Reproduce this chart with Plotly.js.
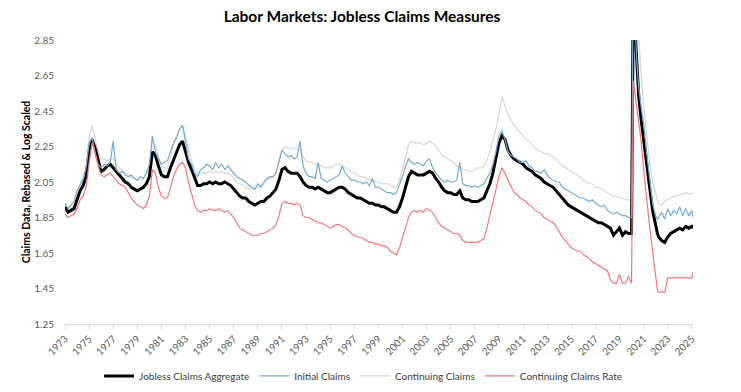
<!DOCTYPE html>
<html>
<head>
<meta charset="utf-8">
<script src="https://cdn.plot.ly/plotly-3.0.1.min.js"></script>
<style>html,body{margin:0;padding:0;background:#fff;}#chart{width:741px;height:392px;}</style>
</head>
<body>
<div id="chart"></div>
<script>
// Quarterly readings 1973.00 .. 2019.75 (4 values per year)
const firstYear = 1973;
const lastQuarterYear = 2019;
// Finer readings around the 2020 spike and after
const recentDates = [2020.0, 2020.15, 2020.22, 2020.3, 2020.45, 2020.6, 2020.8, 2021.0, 2021.25, 2021.5,
  2021.75, 2022.0, 2022.15, 2022.25, 2022.5, 2022.75, 2023.0, 2023.25, 2023.5, 2023.75,
  2024.0, 2024.25, 2024.5, 2024.75, 2025.0, 2025.1];

const aggregateQ = [
  1.91,1.88,1.89,1.90, 1.95,2.00,2.03,2.08, 2.22,2.29,2.24,2.17, 2.11,2.12,2.14,2.15,
  2.13,2.11,2.09,2.07, 2.05,2.04,2.02,2.01, 2.00,2.01,2.02,2.04, 2.08,2.22,2.20,2.14,
  2.09,2.08,2.08,2.13, 2.17,2.21,2.26,2.28, 2.22,2.16,2.12,2.07, 2.03,2.03,2.04,2.04,
  2.05,2.04,2.05,2.04, 2.04,2.05,2.04,2.03, 2.01,1.99,1.97,1.96, 1.96,1.94,1.93,1.92,
  1.93,1.94,1.94,1.96, 1.97,1.99,2.01,2.06, 2.12,2.13,2.11,2.10, 2.10,2.10,2.08,2.05,
  2.03,2.02,2.02,2.01, 2.02,2.01,2.00,1.99, 1.99,2.00,2.01,2.02, 2.02,2.01,1.99,1.98,
  1.97,1.96,1.96,1.95, 1.94,1.93,1.93,1.92, 1.92,1.91,1.91,1.90, 1.89,1.88,1.88,1.91,
  1.96,2.02,2.08,2.11, 2.10,2.09,2.09,2.09, 2.10,2.11,2.10,2.07, 2.05,2.02,2.00,1.99,
  1.99,1.98,1.98,2.00, 1.96,1.95,1.95,1.94, 1.94,1.94,1.95,1.96, 2.00,2.04,2.10,2.18,
  2.27,2.31,2.29,2.23, 2.20,2.18,2.17,2.16, 2.15,2.13,2.12,2.11, 2.09,2.08,2.07,2.05,
  2.04,2.03,2.02,2.00, 1.98,1.96,1.94,1.92, 1.91,1.90,1.89,1.88, 1.87,1.86,1.85,1.84,
  1.83,1.82,1.82,1.81, 1.80,1.79,1.75,1.77, 1.79,1.75,1.77,1.76];
const aggregateRecent = [1.76,3.20,3.30,2.90,2.70,2.53,2.40,2.30,2.16,2.02,
  1.89,1.80,1.76,1.74,1.72,1.71,1.74,1.76,1.77,1.78, 1.79,1.78,1.80,1.79,1.80,1.79];

const initialQ = [
  1.93,1.90,1.92,1.94, 2.00,2.04,2.07,2.13, 2.27,2.30,2.21,2.15, 2.13,2.15,2.14,2.16,
  2.28,2.12,2.10,2.11, 2.09,2.08,2.09,2.07, 2.06,2.08,2.07,2.10, 2.15,2.31,2.22,2.18,
  2.15,2.16,2.17,2.22, 2.27,2.30,2.35,2.37, 2.28,2.18,2.15,2.10, 2.08,2.12,2.13,2.15,
  2.14,2.12,2.16,2.13, 2.15,2.12,2.14,2.12, 2.10,2.08,2.07,2.06, 2.05,2.03,2.02,2.01,
  2.04,2.02,2.05,2.07, 2.08,2.08,2.10,2.16, 2.23,2.21,2.19,2.20, 2.18,2.19,2.28,2.14,
  2.10,2.08,2.08,2.07, 2.16,2.07,2.06,2.05, 2.06,2.07,2.08,2.09, 2.14,2.10,2.08,2.06,
  2.06,2.05,2.05,2.04, 2.05,2.03,2.07,2.02, 2.02,2.01,2.00,1.99, 1.99,1.98,1.99,2.03,
  2.08,2.14,2.18,2.16, 2.15,2.16,2.15,2.14, 2.17,2.18,2.13,2.10, 2.08,2.06,2.05,2.06,
  2.05,2.05,2.06,2.16, 2.04,2.03,2.03,2.02, 2.03,2.02,2.03,2.04, 2.07,2.10,2.15,2.22,
  2.31,2.34,2.29,2.22, 2.20,2.19,2.18,2.16, 2.16,2.17,2.14,2.13, 2.11,2.11,2.10,2.12,
  2.09,2.07,2.06,2.05, 2.05,2.02,2.01,2.00, 1.99,1.98,1.97,1.96, 1.96,1.95,1.94,1.95,
  1.93,1.92,1.91,1.92, 1.89,1.88,1.87,1.88, 1.87,1.86,1.86,1.85];
const initialRecent = [1.85,3.30,3.25,2.92,2.72,2.58,2.47,2.38,2.22,2.08,
  1.93,1.86,1.84,1.85,1.88,1.84,1.90,1.86,1.89,1.87, 1.91,1.86,1.90,1.86,1.89,1.85];

const continuingQ = [
  1.92,1.89,1.90,1.92, 1.96,2.01,2.06,2.14, 2.30,2.37,2.30,2.22, 2.18,2.18,2.17,2.18,
  2.18,2.15,2.13,2.12, 2.10,2.09,2.08,2.07, 2.06,2.06,2.07,2.10, 2.14,2.28,2.26,2.20,
  2.14,2.13,2.13,2.19, 2.26,2.31,2.35,2.37, 2.31,2.23,2.17,2.12, 2.10,2.10,2.10,2.10,
  2.11,2.10,2.11,2.10, 2.11,2.10,2.10,2.09, 2.07,2.05,2.04,2.03, 2.02,2.01,2.01,2.01,
  2.02,2.03,2.04,2.06, 2.07,2.08,2.10,2.16, 2.23,2.25,2.24,2.24, 2.24,2.24,2.23,2.19,
  2.17,2.16,2.16,2.15, 2.15,2.14,2.13,2.13, 2.13,2.14,2.15,2.15, 2.14,2.13,2.12,2.11,
  2.10,2.09,2.08,2.08, 2.07,2.06,2.06,2.05, 2.05,2.04,2.04,2.04, 2.03,2.02,2.02,2.06,
  2.12,2.20,2.26,2.28, 2.27,2.27,2.27,2.26, 2.27,2.28,2.27,2.25, 2.23,2.20,2.19,2.18,
  2.17,2.16,2.14,2.13, 2.12,2.12,2.11,2.11, 2.12,2.13,2.13,2.14, 2.17,2.22,2.28,2.35,
  2.45,2.53,2.48,2.43, 2.40,2.37,2.35,2.33, 2.31,2.29,2.28,2.26, 2.24,2.23,2.22,2.21,
  2.21,2.20,2.19,2.18, 2.16,2.14,2.13,2.12, 2.11,2.10,2.09,2.08, 2.06,2.05,2.04,2.04,
  2.02,2.02,2.01,2.00, 1.99,1.98,1.97,1.97, 1.96,1.96,1.95,1.95];
const continuingRecent = [1.94,2.40,3.10,3.30,3.05,2.85,2.65,2.48,2.30,2.16,
  2.05,1.98,1.95,1.93,1.92,1.94,1.95,1.96,1.97,1.97, 1.98,1.98,1.99,1.98,1.99,1.99];

const rateQ = [
  1.87,1.85,1.86,1.87, 1.90,1.95,1.97,2.02, 2.16,2.27,2.22,2.14, 2.09,2.08,2.09,2.10,
  2.08,2.06,2.04,2.03, 2.02,1.99,1.96,1.94, 1.92,1.91,1.90,1.92, 1.97,2.12,2.10,2.02,
  1.97,1.96,1.96,2.02, 2.08,2.12,2.15,2.16, 2.13,2.05,1.98,1.92, 1.89,1.88,1.89,1.89,
  1.90,1.89,1.89,1.90, 1.89,1.88,1.89,1.87, 1.85,1.82,1.79,1.78, 1.77,1.76,1.75,1.75,
  1.75,1.76,1.76,1.77, 1.78,1.79,1.81,1.86, 1.93,1.94,1.93,1.93, 1.92,1.93,1.92,1.86,
  1.85,1.85,1.84,1.83, 1.82,1.82,1.81,1.80, 1.79,1.80,1.81,1.81, 1.80,1.79,1.78,1.76,
  1.75,1.74,1.74,1.73, 1.72,1.71,1.71,1.70, 1.70,1.69,1.69,1.68, 1.66,1.65,1.64,1.68,
  1.74,1.80,1.85,1.88, 1.89,1.88,1.89,1.88, 1.90,1.89,1.88,1.85, 1.82,1.80,1.79,1.78,
  1.77,1.76,1.76,1.75, 1.72,1.71,1.71,1.71, 1.71,1.71,1.72,1.73, 1.79,1.86,1.93,2.00,
  2.08,2.13,2.10,2.06, 2.02,1.99,1.98,1.96, 1.95,1.94,1.92,1.91, 1.89,1.88,1.87,1.85,
  1.84,1.83,1.82,1.80, 1.77,1.74,1.72,1.70, 1.68,1.67,1.66,1.66, 1.64,1.63,1.62,1.60,
  1.59,1.58,1.57,1.56, 1.55,1.50,1.48,1.48, 1.53,1.48,1.48,1.52];
const rateRecent = [1.48,2.62,2.58,2.53,2.45,2.36,2.28,2.12,1.94,1.80,
  1.66,1.52,1.44,1.43,1.43,1.43,1.51,1.51,1.51,1.51, 1.51,1.51,1.51,1.51,1.51,1.54];

const seriesNames = ['Jobless Claims Aggregate', 'Initial Claims', 'Continuing Claims', 'Continuing Claims Rate'];
const yTickLabels = ['1.25','1.45','1.65','1.85','2.05','2.25','2.45','2.65','2.85'];
const xTickLabels = [];
for (let y = 1973; y <= 2025; y += 2) xTickLabels.push(String(y));

const quarterDates = [];
for (let y = firstYear; y <= lastQuarterYear; y++) {
  for (let q = 0; q < 4; q++) quarterDates.push(y + q * 0.25);
}
const dates = quarterDates.concat(recentDates);

const FONT = 'Lato, "Open Sans", "DejaVu Sans", sans-serif';

const traces = [
  {name: seriesNames[2], x: dates, y: continuingQ.concat(continuingRecent), type: 'scatter', mode: 'lines',
   line: {color: '#d6d6d6', width: 1.2}, legendrank: 3},
  {name: seriesNames[0], x: dates, y: aggregateQ.concat(aggregateRecent), type: 'scatter', mode: 'lines',
   line: {color: '#000000', width: 3}, legendrank: 1},
  {name: seriesNames[1], x: dates, y: initialQ.concat(initialRecent), type: 'scatter', mode: 'lines',
   line: {color: '#74acd8', width: 1.2}, legendrank: 2},
  {name: seriesNames[3], x: dates, y: rateQ.concat(rateRecent), type: 'scatter', mode: 'lines',
   line: {color: '#f47676', width: 1.2}, legendrank: 4}
];

const layout = {
  width: 741, height: 392,
  margin: {l: 65, r: 48, t: 40, b: 68},
  paper_bgcolor: '#ffffff', plot_bgcolor: '#ffffff',
  font: {family: FONT, size: 10, color: '#595959'},
  title: {text: '<b>Labor Markets: Jobless Claims Measures</b>', font: {family: FONT, size: 15.5, color: '#000000'},
          x: 0.473, xref: 'paper', xanchor: 'center', y: 0.957, yref: 'container', yanchor: 'middle'},
  xaxis: {range: [1973, 2025.1], tickmode: 'array', tickvals: xTickLabels.map(Number), ticktext: xTickLabels,
          tickangle: -45, showgrid: false, zeroline: false, showline: true, linecolor: '#d9d9d9', linewidth: 1,
          ticks: 'outside', ticklen: 4, tickcolor: '#d9d9d9', automargin: false,
          tickfont: {family: FONT, size: 10, color: '#595959'}},
  yaxis: {range: [1.25, 2.85], tickmode: 'array', tickvals: yTickLabels.map(Number), ticktext: yTickLabels,
          showgrid: false, zeroline: false, showline: false, ticks: '', automargin: false,
          ticklabelstandoff: 10,
          tickfont: {family: FONT, size: 10, color: '#595959'},
          title: {text: '<b>Claims Data, Rebased & Log Scaled</b>', font: {family: FONT, size: 10.5, color: '#000000'}, standoff: 1}},
  legend: {orientation: 'h', x: 0.49, xref: 'container', xanchor: 'center', y: 0.041, yref: 'container', yanchor: 'middle',
           font: {family: FONT, size: 10, color: '#404040'}, itemwidth: 30, bgcolor: 'rgba(0,0,0,0)'},
  showlegend: true
};

Plotly.newPlot('chart', traces, layout, {displayModeBar: false, staticPlot: true});
</script>
</body>
</html>
